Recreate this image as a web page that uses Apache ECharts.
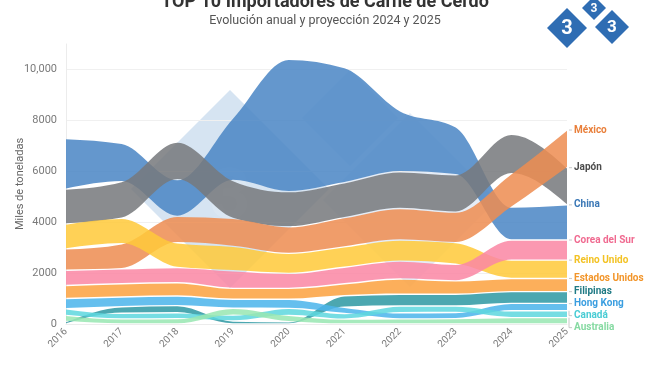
<!DOCTYPE html>
<html><head><meta charset="utf-8">
<script src="https://cdn.jsdelivr.net/npm/echarts@6/dist/echarts.min.js"></script>
<style>html,body{margin:0;padding:0;background:#fff}#c{width:650px;height:365px}</style>
</head><body><div id="c"></div>
<script>
// ---- data (miles de toneladas) ----
const years = [2016, 2017, 2018, 2019, 2020, 2021, 2022, 2023, 2024, 2025];
const countries = ['China', 'Japón', 'México', 'Reino Unido', 'Corea del Sur', 'Estados Unidos', 'Filipinas', 'Hong Kong', 'Canadá', 'Australia'];
const china         = [1990, 1500, 1440, 2450, 5200, 4520, 2400, 1880, 1290, 1380];
const japon         = [1370, 1440, 1480, 1490, 1380, 1370, 1440, 1470, 1550, 1460];
const mexico        = [ 840,  985, 1040, 1100, 1045, 1150, 1240, 1200, 1310, 1480];
const reinoUnido    = [ 980, 1000,  970,  960,  785,  800,  830,  850,  720,  720];
const corea         = [ 595,  590,  600,  690,  590,  650,  700,  650,  790,  790];
const estadosUnidos = [ 515,  520,  520,  430,  430,  470,  600,  525,  520,  520];
const filipinas     = [ 100,  260,  280,  120,   90,  450,  460,  460,  460,  460];
const hongKong      = [ 400,  380,  380,  350,  355,  250,  240,  240,  290,  290];
const canada        = [ 260,  220,  230,  230,  275,  220,  270,  260,  270,  270];
const australia     = [ 240,  200,  210,  270,  250,  190,  200,  210,  250,  250];
const yTicks = [0, 2000, 4000, 6000, 8000, 10000];

const values = [china, japon, mexico, reinoUnido, corea, estadosUnidos, filipinas, hongKong, canada, australia];
const bandColors  = ['#4A86C5', '#77797D', '#EE8D52', '#FFCA3A', '#FA87A4', '#FBA240', '#2E98A3', '#4CB5EB', '#5ED7DE', '#98E6B2'];
const labelColors = ['#3B78B6', '#4B4B4B', '#E97F3A', '#F3C223', '#F06A90', '#F2952A', '#1F7A85', '#3A9EE0', '#49CCD4', '#86DAA2'];

// ranked stacking: larger values on top each year
const lower = values.map(() => []), upper = values.map(() => []);
years.forEach((y, j) => {
  const order = values.map((v, i) => i).sort((a, b) => values[a][j] - values[b][j]);
  let cum = 0;
  order.forEach(i => { lower[i][j] = cum; cum += values[i][j]; upper[i][j] = cum; });
});
// label positions at 2025 (band tops, pushed apart)
const last = years.length - 1;
const labOrder = values.map((v, i) => i).sort((a, b) => upper[b][last] - upper[a][last]);
const labelVal = [];
let prev = Infinity;
labOrder.forEach(i => { const v = Math.min(upper[i][last], prev - 471); labelVal[i] = v; prev = v; });

const PAD = 0.7;
function tangents(p) {
  const n = p.length, t = new Array(n).fill(0), s = [];
  for (let i = 0; i < n - 1; i++) s.push((p[i + 1][1] - p[i][1]) / (p[i + 1][0] - p[i][0]));
  for (let i = 1; i < n - 1; i++) {
    const s0 = s[i - 1], s1 = s[i], h0 = p[i][0] - p[i - 1][0], h1 = p[i + 1][0] - p[i][0];
    const q = (s0 * h1 + s1 * h0) / (h0 + h1);
    t[i] = (Math.sign(s0) + Math.sign(s1)) * Math.min(Math.abs(s0), Math.abs(s1), 0.5 * Math.abs(q)) || 0;
  }
  t[0] = (3 * s[0] - t[1]) / 2;
  t[n - 1] = (3 * s[n - 2] - t[n - 2]) / 2;
  return t;
}
function renderBand(params, api) {
  const k = api.value(2);
  const up = years.map((y, j) => { const c = api.coord([y, upper[k][j]]); return [c[0], c[1] + PAD]; });
  const lo = years.map((y, j) => { const c = api.coord([y, lower[k][j]]); return [c[0], c[1] - PAD]; });
  const tu = tangents(up), tl = tangents(lo);
  const n = up.length;
  let d = 'M' + up[0][0] + ',' + up[0][1];
  for (let i = 0; i < n - 1; i++) {
    const h = (up[i + 1][0] - up[i][0]) / 3;
    d += 'C' + (up[i][0] + h) + ',' + (up[i][1] + h * tu[i]) + ',' + (up[i + 1][0] - h) + ',' + (up[i + 1][1] - h * tu[i + 1]) + ',' + up[i + 1][0] + ',' + up[i + 1][1];
  }
  d += 'L' + lo[n - 1][0] + ',' + lo[n - 1][1];
  for (let i = n - 1; i > 0; i--) {
    const h = (lo[i][0] - lo[i - 1][0]) / 3;
    d += 'C' + (lo[i][0] - h) + ',' + (lo[i][1] - h * tl[i]) + ',' + (lo[i - 1][0] + h) + ',' + (lo[i - 1][1] + h * tl[i - 1]) + ',' + lo[i - 1][0] + ',' + lo[i - 1][1];
  }
  d += 'Z';
  return { type: 'path', shape: { pathData: d }, style: { fill: bandColors[k], opacity: 0.86 } };
}
function renderLabel(params, api) {
  const k = api.value(2);
  const top = api.coord([years[last], upper[k][last]]);
  const lab = api.coord([years[last], labelVal[k]]);
  return {
    type: 'group', children: [
      { type: 'polyline', shape: { points: [[top[0] + 2, top[1]], [top[0] + 2, lab[1]], [top[0] + 5, lab[1]]] }, style: { stroke: '#c8c8c8', lineWidth: 1, fill: null } },
      { type: 'text', x: top[0] + 7, y: lab[1], style: { text: countries[k], fill: labelColors[k], font: 'bold 10px Roboto', align: 'left', verticalAlign: 'middle' } }
    ]
  };
}

function diamond(cx, cy, r, fill) {
  return { type: 'polygon', shape: { points: [[cx, cy - r], [cx + r, cy], [cx, cy + r], [cx - r, cy]] }, style: { fill: fill } };
}
function three(cx, cy, size, fill) {
  return { type: 'text', x: cx, y: cy, style: { text: '3', fill: fill, font: 'bold ' + size + 'px Roboto', align: 'center', verticalAlign: 'middle' } };
}

const chart = echarts.init(document.getElementById('c'), null, { renderer: 'canvas' });
chart.setOption({
  animation: false,
  backgroundColor: '#fff',
  grid: { left: 66, right: 83, top: 44, bottom: 41, containLabel: false },
  xAxis: {
    type: 'value', min: years[0], max: years[last], interval: 1,
    axisLine: { show: true, lineStyle: { color: '#ececec' } }, axisTick: { show: false }, splitLine: { show: false },
    axisLabel: { rotate: 45, formatter: v => String(v), color: '#7a7a7a', fontSize: 10, fontFamily: 'Roboto', margin: 6 }
  },
  yAxis: {
    type: 'value', min: yTicks[0], max: 11000, interval: 2000,
    name: 'Miles de toneladas', nameLocation: 'middle', nameGap: 40, nameMoveOverlap: false,
    nameTextStyle: { color: '#666', fontSize: 11, fontFamily: 'Roboto' },
    axisLine: { show: true, lineStyle: { color: '#ececec' } }, axisTick: { show: false },
    splitLine: { show: true, showMaxLine: false, lineStyle: { color: '#f0f0f0' } },
    axisLabel: { showMaxLabel: false, color: '#7a7a7a', fontSize: 11, fontFamily: 'Roboto', margin: 9,
      formatter: v => (v >= 10000 ? v.toLocaleString('en-US') : String(v)) }
  },
  series: [
    { type: 'custom', coordinateSystem: 'cartesian2d', silent: true, renderItem: renderBand,
      encode: { x: 0, y: 1 }, data: countries.map((c, i) => [years[0], 0, i]), z: 2 },
    { type: 'custom', coordinateSystem: 'cartesian2d', silent: true, renderItem: renderLabel, clip: false,
      encode: { x: 0, y: 1 }, data: countries.map((c, i) => [years[last], 0, i]), z: 5 }
  ],
  graphic: [
    // watermark
    { type: 'group', silent: true, z: 10, children: [
      diamond(230, 189, 99, 'rgba(70,130,195,0.22)'),
      diamond(350, 118, 48, 'rgba(70,130,195,0.14)'),
      diamond(410, 200, 87, 'rgba(70,130,195,0.14)'),
      three(230, 200, 70, 'rgba(255,255,255,0.14)'),
      three(350, 120, 40, 'rgba(255,255,255,0.14)'),
      three(410, 200, 56, 'rgba(255,255,255,0.14)')
    ] },
    // titles
    { type: 'text', left: 'center', top: -7, style: { text: 'TOP 10 Importadores de Carne de Cerdo', fill: '#333', font: 'bold 18px Roboto' } },
    { type: 'text', left: 'center', top: 14, style: { text: 'Evolución anual y proyección 2024 y 2025', fill: '#555', font: '12.5px Roboto' } },
    // logo
    diamond(567, 28, 20, '#2F6DB3'),
    diamond(594, 8, 12, '#2F6DB3'),
    diamond(612, 27, 17, '#2F6DB3'),
    three(567, 29, 20, '#fff'),
    three(594, 9, 12, '#fff'),
    three(612, 28, 17, '#fff')
  ]
});
</script>
</body></html>
